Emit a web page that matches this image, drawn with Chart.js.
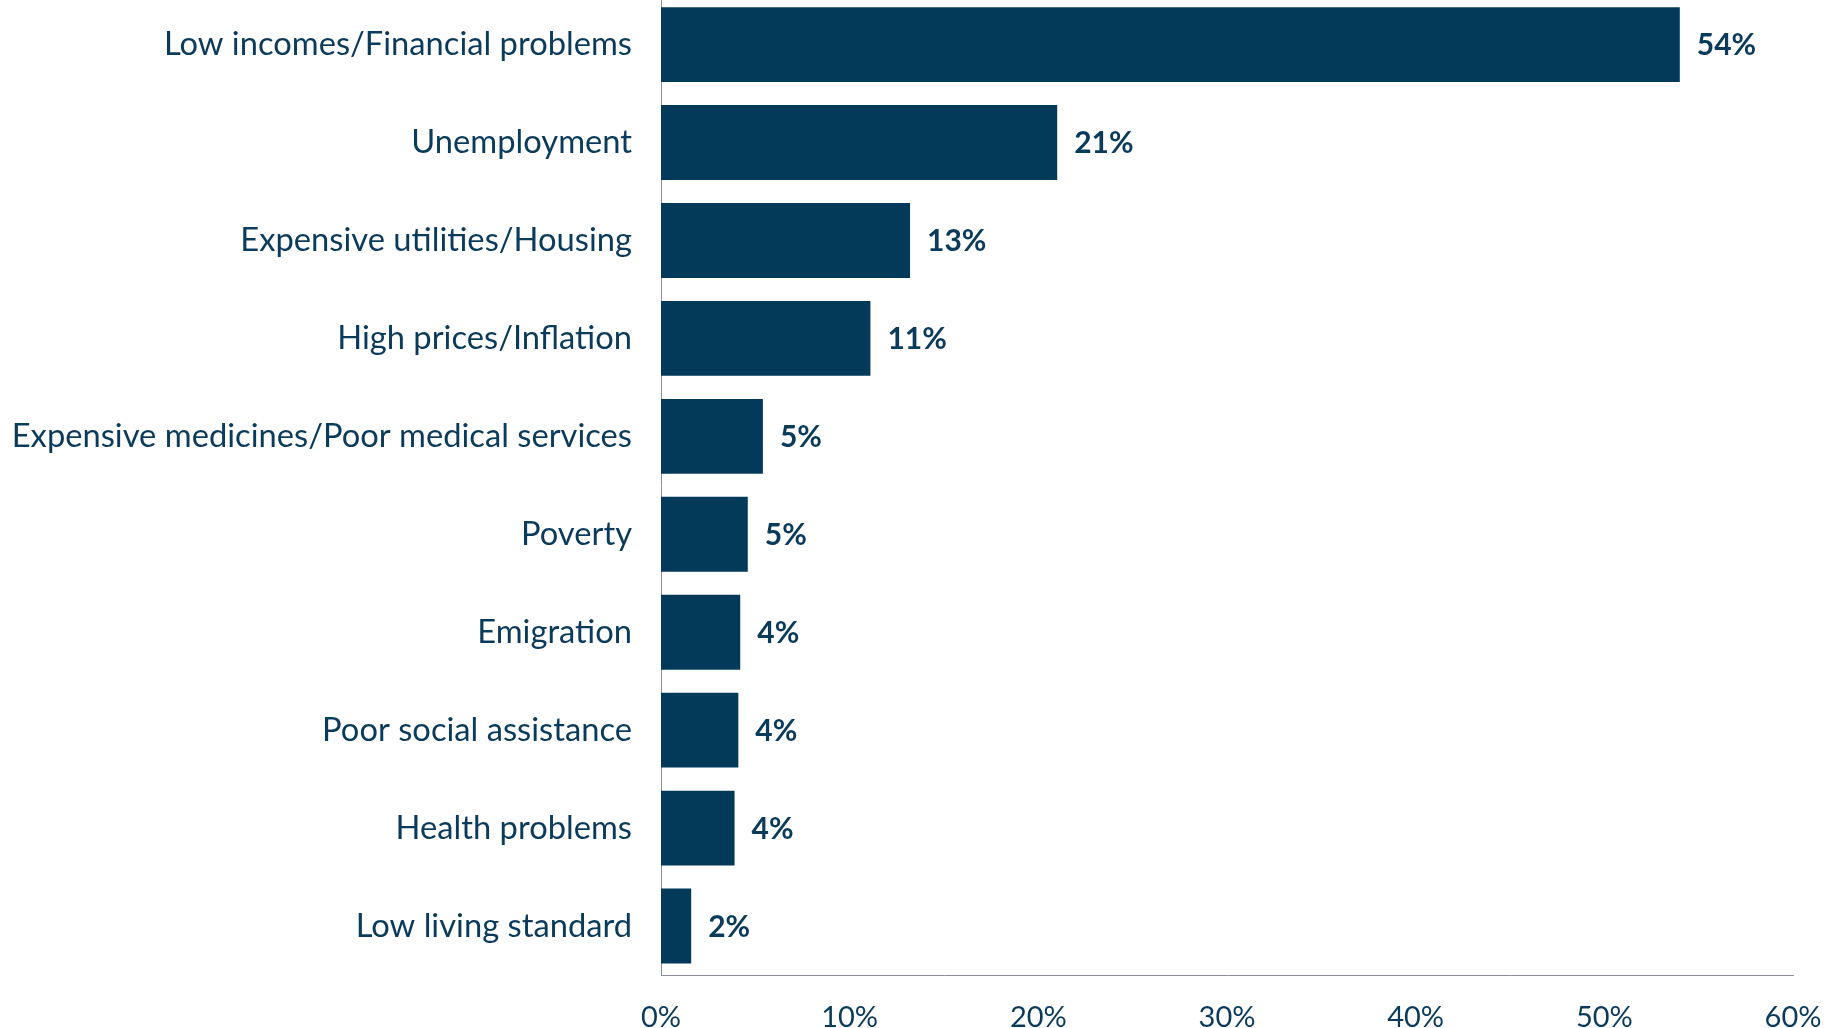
<!DOCTYPE html>
<html>
<head>
<meta charset="utf-8">
<script src="https://cdn.jsdelivr.net/npm/chart.js@4/dist/chart.umd.min.js"></script>
<style>
  html, body { margin: 0; padding: 0; background: #fff; overflow: hidden; }
  #wrap { position: absolute; left: 0; top: -53px; width: 1839px; height: 1081px; }
</style>
</head>
<body>
<div id="wrap"><canvas id="myChart"></canvas></div>
<script>
const categories = [
  'Low incomes/Financial problems',
  'Unemployment',
  'Expensive utilities/Housing',
  'High prices/Inflation',
  'Expensive medicines/Poor medical services',
  'Poverty',
  'Emigration',
  'Poor social assistance',
  'Health problems',
  'Low living standard',
];
const values = [54, 21, 13.2, 11.1, 5.4, 4.6, 4.2, 4.1, 3.9, 1.6];
const shownLabels = ['54%', '21%', '13%', '11%', '5%', '5%', '4%', '4%', '4%', '2%'];
const xTicks = [0, 10, 20, 30, 40, 50, 60];

const navy = '#033a5a';
const textNavy = '#0b3b5b';
const axisGray = '#8a8e9c';

// draw the value next to each bar
const valueLabels = {
  id: 'valueLabels',
  afterDatasetsDraw(chart) {
    let ctx = chart.ctx;
    let meta = chart.getDatasetMeta(0);
    ctx.save();
    ctx.font = 'bold 30px Lato';
    ctx.fillStyle = textNavy;
    ctx.textAlign = 'left';
    ctx.textBaseline = 'middle';
    meta.data.forEach((bar, i) => {
      ctx.fillText(shownLabels[i], bar.x + 17, bar.y + 1);
    });
    ctx.restore();
  }
};

const config = {
  type: 'bar',
  data: {
    labels: categories,
    datasets: [{
      data: values,
      backgroundColor: navy,
      borderWidth: 0,
      barPercentage: 0.765,
      categoryPercentage: 1,
    }]
  },
  options: {
    indexAxis: 'y',
    responsive: true,
    maintainAspectRatio: false,
    animation: false,
    layout: { padding: { top: 0, right: 46, bottom: 0, left: 0 } },
    plugins: {
      legend: { display: false },
      tooltip: { enabled: false },
    },
    scales: {
      x: {
        min: 0,
        max: 60,
        afterBuildTicks: (scale) => { scale.ticks = xTicks.map(v => ({ value: v })); },
        afterFit: (scale) => {
          scale.height = 53;
          scale.paddingLeft = 0;
          scale.paddingRight = 0;
        },
        grid: { display: false, drawTicks: false },
        border: { display: true, color: axisGray, width: 1 },
        ticks: {
          padding: 25,
          color: textNavy,
          font: { size: 29, family: 'Lato' },
          maxRotation: 0,
          callback: (v) => v + '%',
        }
      },
      y: {
        afterFit: (scale) => { scale.width = 661; },
        grid: { display: false, drawTicks: false },
        border: { display: true, color: axisGray, width: 1 },
        ticks: {
          padding: 29,
          color: textNavy,
          font: { size: 32.7, family: 'Lato' },
        }
      }
    }
  },
  plugins: [valueLabels]
};

const myChart = new Chart(document.getElementById('myChart'), config);
</script>
</body>
</html>
